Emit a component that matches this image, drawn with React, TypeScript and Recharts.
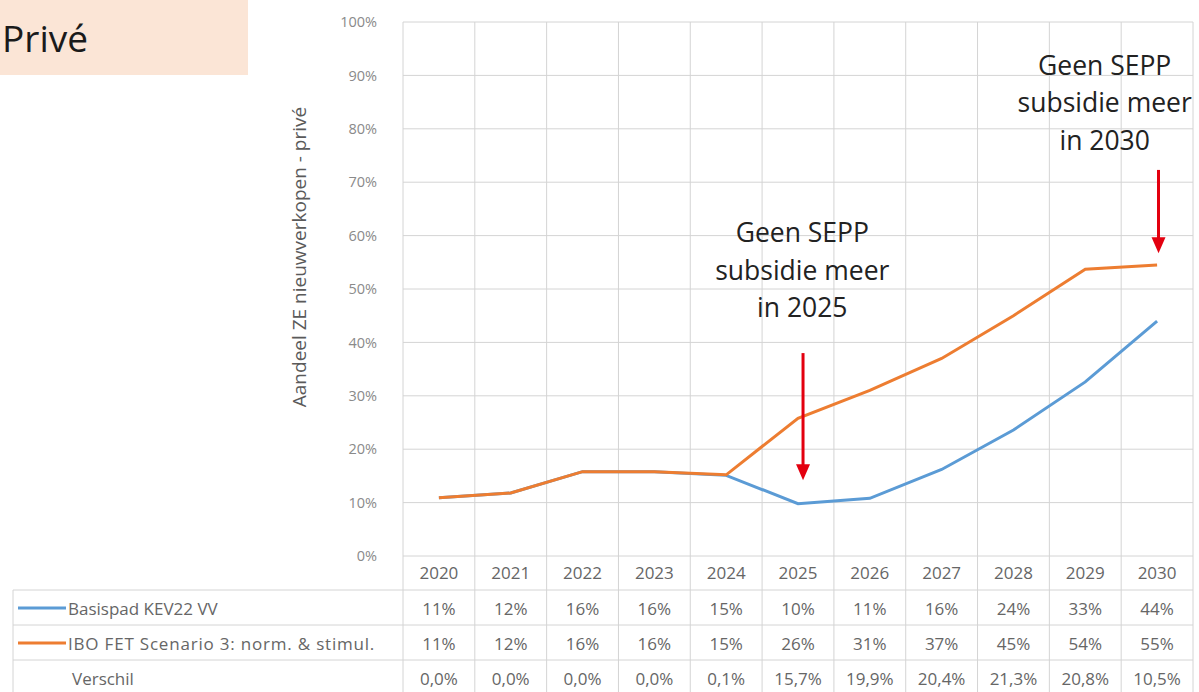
import React from 'react';
import { LineChart, Line, XAxis, YAxis, CartesianGrid, ReferenceLine, ReferenceDot } from 'recharts';

const years = ['2020', '2021', '2022', '2023', '2024', '2025', '2026', '2027', '2028', '2029', '2030'];
const basispad = [10.9, 11.8, 15.8, 15.8, 15.1, 9.8, 10.8, 16.2, 23.6, 32.6, 44.0];
const ibo = [10.9, 11.8, 15.8, 15.8, 15.2, 25.8, 31.0, 37.0, 45.0, 53.7, 54.5];
const basispadLabels = ['11%', '12%', '16%', '16%', '15%', '10%', '11%', '16%', '24%', '33%', '44%'];
const iboLabels = ['11%', '12%', '16%', '16%', '15%', '26%', '31%', '37%', '45%', '54%', '55%'];
const verschilLabels = ['0,0%', '0,0%', '0,0%', '0,0%', '0,1%', '15,7%', '19,9%', '20,4%', '21,3%', '20,8%', '10,5%'];
const yTicks = [0, 10, 20, 30, 40, 50, 60, 70, 80, 90, 100];
const seriesNames = ['Basispad KEV22 VV', 'IBO FET Scenario 3: norm. & stimul.', 'Verschil'];
const note2025 = ['Geen SEPP', 'subsidie meer', 'in 2025'];
const note2030 = ['Geen SEPP', 'subsidie meer', 'in 2030'];

const W = 1199;
const H = 692;
const Y_AXIS_W = 403;
const MARGIN = { top: 22, right: 6, bottom: 0, left: 0 };
const BW = (W - Y_AXIS_W - MARGIN.right) / years.length;

const BLUE = '#5b9bd5';
const ORANGE = '#ed7d31';
const GRID = '#d4d4d4';
const TXT = '#666';
const FONT = '"Open Sans", sans-serif';

const data = years.map((year, i) => ({ i, year, basispad: basispad[i], ibo: ibo[i] }));

function TableTick(props: any) {
  const { x, y, payload, index } = props;
  const i = payload.value as number;
  const l = x - BW / 2;
  const r = x + BW / 2;
  const rows = [basispadLabels[i], iboLabels[i], verschilLabels[i]];
  const tableLeft = 13;
  return (
    <g fontFamily={FONT} fontSize={17} fill={TXT}>
      {index === 0 && (
        <g>
          <line x1={l} x2={l} y1={y} y2={H} stroke={GRID} />
          <line x1={tableLeft} x2={tableLeft} y1={y + 34} y2={H} stroke={GRID} />
          {[34, 69, 104].map((d) => (
            <line key={d} x1={tableLeft} x2={l} y1={y + d} y2={y + d} stroke={GRID} />
          ))}
          <line x1={18} x2={66} y1={y + 52} y2={y + 52} stroke={BLUE} strokeWidth={3} />
          <line x1={18} x2={66} y1={y + 87} y2={y + 87} stroke={ORANGE} strokeWidth={3} />
          <text x={68} y={y + 59}>{seriesNames[0]}</text>
          <text x={68} y={y + 94} letterSpacing={0.8}>{seriesNames[1]}</text>
          <text x={72} y={y + 129}>{seriesNames[2]}</text>
        </g>
      )}
      <line x1={r} x2={r} y1={y} y2={H} stroke={GRID} />
      {[34, 69, 104].map((d) => (
        <line key={d} x1={l} x2={r} y1={y + d} y2={y + d} stroke={GRID} />
      ))}
      <text x={x} y={y + 23} textAnchor="middle">{years[i]}</text>
      {rows.map((v, k) => (
        <text key={k} x={x} y={y + 59 + k * 35} textAnchor="middle">{v}</text>
      ))}
    </g>
  );
}

function Arrow(props: any) {
  const { x1, y1, x2, y2 } = props;
  return (
    <g>
      <line x1={x1} y1={y1} x2={x2} y2={y2 - 14} stroke="#e3000f" strokeWidth={3} />
      <polygon points={`${x2 - 7},${y2 - 16} ${x2 + 7},${y2 - 16} ${x2},${y2}`} fill="#e3000f" />
    </g>
  );
}

function Note(lines: string[]) {
  return (props: any) => (
    <text
      x={props.cx}
      y={props.cy}
      textAnchor="middle"
      fontFamily={FONT}
      fontSize={26.5}
      fontWeight={500}
      fill="#222"
    >
      {lines.map((t, k) => (
        <tspan key={k} x={props.cx} dy={k === 0 ? 0 : 37.5}>{t}</tspan>
      ))}
    </text>
  );
}

function YLabel() {
  return (
    <text
      x={0}
      y={0}
      transform="translate(306 257) rotate(-90)"
      textAnchor="middle"
      fontFamily={FONT}
      fontSize={19}
      fill="#5a5a5a"
    >
      Aandeel ZE nieuwverkopen - privé
    </text>
  );
}

export default function App() {
  return (
    <div style={{ position: 'absolute', left: 0, top: 0, width: W, height: H, background: '#fff' }}>
      <div
        style={{
          position: 'absolute',
          left: 0,
          top: 0,
          width: 248,
          height: 75,
          background: '#fbe5d6',
          fontFamily: FONT,
          fontSize: 37,
          lineHeight: '75px',
          color: '#1a1a1a',
          paddingLeft: 2,
          boxSizing: 'border-box',
        }}
      >
        Privé
      </div>
      <div style={{ position: 'absolute', left: 0, top: 0 }}>
        <LineChart width={W} height={H} data={data} margin={MARGIN}>
          <CartesianGrid vertical={false} stroke={GRID} />
          {years.map((_, i) => (
            <ReferenceLine key={i} x={i - 0.5} stroke={GRID} ifOverflow="visible" />
          ))}
          <ReferenceLine x={years.length - 0.5} stroke={GRID} ifOverflow="visible" />
          <XAxis
            type="number"
            dataKey="i"
            domain={[-0.5, years.length - 0.5]}
            ticks={years.map((_, i) => i)}
            interval={0}
            height={H - 556}
            tickSize={0}
            tickMargin={0}
            axisLine={false}
            tickLine={false}
            tick={<TableTick />}
          />
          <YAxis
            type="number"
            domain={[0, 100]}
            ticks={yTicks}
            width={Y_AXIS_W}
            axisLine={false}
            tickLine={false}
            tickMargin={20}
            tickFormatter={(v) => `${v}%`}
            tick={{ fontFamily: FONT, fontSize: 14.5, fill: '#8a8a8a' }}
            label={<YLabel />}
          />
          <Line
            type="linear"
            dataKey="basispad"
            stroke={BLUE}
            strokeWidth={3}
            dot={false}
            isAnimationActive={false}
          />
          <Line
            type="linear"
            dataKey="ibo"
            stroke={ORANGE}
            strokeWidth={3}
            dot={false}
            isAnimationActive={false}
          />
          <ReferenceLine
            segment={[{ x: 5.07, y: 38 }, { x: 5.07, y: 14.2 }]}
            shape={<Arrow />}
            ifOverflow="visible"
          />
          <ReferenceLine
            segment={[{ x: 10.02, y: 72.3 }, { x: 10.02, y: 56.7 }]}
            shape={<Arrow />}
            ifOverflow="visible"
          />
          <ReferenceDot x={5.06} y={58.8} r={0} ifOverflow="visible" shape={Note(note2025)} />
          <ReferenceDot x={9.27} y={90.1} r={0} ifOverflow="visible" shape={Note(note2030)} />
        </LineChart>
      </div>
    </div>
  );
}
